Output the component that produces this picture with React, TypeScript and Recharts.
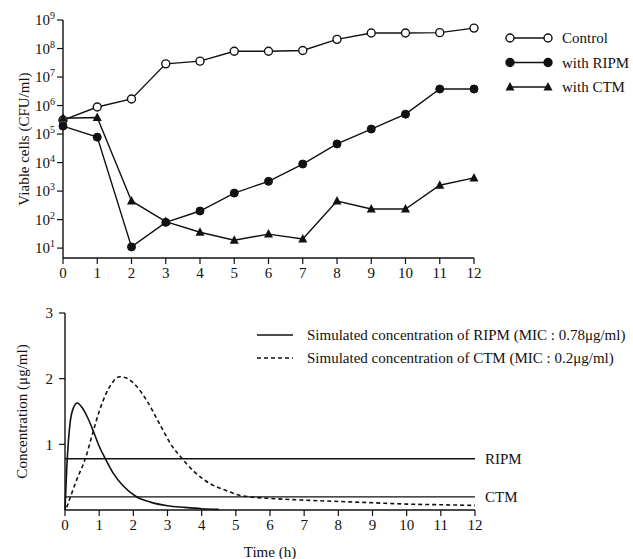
import React from "react";
import {
  LineChart,
  Line,
  XAxis,
  YAxis,
  Legend,
  ReferenceLine,
} from "recharts";

const FONT = '"Liberation Serif", "Times New Roman", serif';
const INK = "#111";

// viable cell counts (CFU/ml)
const hours = [0, 1, 2, 3, 4, 5, 6, 7, 8, 9, 10, 11, 12];
const control = [3.1e5, 8.9e5, 1.7e6, 2.9e7, 3.6e7, 8e7, 8e7, 8.5e7, 2.1e8, 3.5e8, 3.5e8, 3.6e8, 5.2e8];
const withRipm = [1.9e5, 7.8e4, 11, 80, 200, 850, 2200, 8900, 4.5e4, 1.5e5, 5e5, 3.8e6, 3.8e6];
const withCtm = [3.6e5, 3.8e5, 450, 85, 36, 19, 31, 21, 450, 235, 235, 1600, 2900];
const logTicks = [1e1, 1e2, 1e3, 1e4, 1e5, 1e6, 1e7, 1e8, 1e9];

// simulated concentrations (ug/ml), lower panel
const ripmTime = [0, 0.05, 0.1, 0.15, 0.25, 0.36, 0.5, 0.65, 0.83, 1.0, 1.17, 1.4, 1.7, 2.07, 2.5, 3.0, 3.5, 4.0, 4.5];
const ripmConc = [0, 0.62, 1.05, 1.33, 1.56, 1.63, 1.56, 1.42, 1.2, 0.97, 0.79, 0.57, 0.37, 0.21, 0.12, 0.065, 0.04, 0.02, 0.01];
const ctmTime = [0.05, 0.35, 0.6, 0.8, 1.0, 1.2, 1.4, 1.6, 1.8, 2.1, 2.4, 2.8, 3.1, 3.4, 3.75, 4.25, 4.75, 5.0, 5.4, 5.9, 7, 8, 9, 10, 11, 12];
const ctmConc = [0.04, 0.47, 0.79, 1.15, 1.5, 1.77, 1.95, 2.03, 2.01, 1.88, 1.66, 1.28, 1.0, 0.8, 0.6, 0.4, 0.29, 0.24, 0.2, 0.18, 0.15, 0.13, 0.11, 0.09, 0.08, 0.07];
const micLines = [
  { name: "RIPM", value: 0.78 },
  { name: "CTM", value: 0.2 },
];
const concTicks = [1, 2, 3];

const cellRows = hours.map((h, i) => ({
  hour: h,
  control: control[i],
  ripm: withRipm[i],
  ctm: withCtm[i],
}));
const ripmRows = ripmTime.map((t, i) => ({ t, c: ripmConc[i] }));
const ctmRows = ctmTime.map((t, i) => ({ t, c: ctmConc[i] }));

const PowerTick = ({ x, y, payload }: any) => {
  const exp = Math.round(Math.log10(payload.value));
  return (
    <text x={x} y={y} dy={5} textAnchor="end" fontSize={15} fontFamily={FONT} fill={INK}>
      10
      <tspan dy={-6} fontSize={10}>
        {exp}
      </tspan>
    </text>
  );
};

const Triangle = (props: any) => {
  const { cx, cy, index } = props;
  if (cx == null || cy == null) return null;
  return (
    <polygon
      key={`tri-${index}`}
      points={`${cx},${cy - 5} ${cx - 4.5},${cy + 3.5} ${cx + 4.5},${cy + 3.5}`}
      fill={INK}
    />
  );
};

const CellLegend = () => {
  const rows = [
    { label: "Control", mark: "open" },
    { label: "with RIPM", mark: "filled" },
    { label: "with CTM", mark: "tri" },
  ];
  const drawMark = (mark: string, x: number, y: number) => {
    if (mark === "tri")
      return <polygon points={`${x},${y - 5} ${x - 4.5},${y + 3.5} ${x + 4.5},${y + 3.5}`} fill={INK} />;
    return <circle cx={x} cy={y} r={4} fill={mark === "open" ? "#fff" : INK} stroke={INK} strokeWidth={1.4} />;
  };
  return (
    <svg width={130} height={80}>
      {rows.map((r, i) => {
        const y = 12 + i * 24.5;
        return (
          <g key={r.label}>
            <line x1={10} x2={48} y1={y} y2={y} stroke={INK} strokeWidth={1.4} />
            {drawMark(r.mark, 10, y)}
            {drawMark(r.mark, 48, y)}
            <text x={62} y={y + 5} fontSize={15} fontFamily={FONT} fill={INK}>
              {r.label}
            </text>
          </g>
        );
      })}
    </svg>
  );
};

const ConcLegend = () => (
  <svg width={380} height={40}>
    <line x1={2} x2={38} y1={8} y2={8} stroke={INK} strokeWidth={1.5} />
    <text x={52} y={13} fontSize={15} fontFamily={FONT} fill={INK}>
      Simulated concentration of RIPM (MIC : 0.78μg/ml)
    </text>
    <line x1={2} x2={38} y1={31} y2={31} stroke={INK} strokeWidth={1.5} strokeDasharray="4 3" />
    <text x={52} y={36} fontSize={15} fontFamily={FONT} fill={INK}>
      Simulated concentration of CTM (MIC : 0.2μg/ml)
    </text>
  </svg>
);

const tickStyle = { fontSize: 15, fill: INK, fontFamily: FONT };
const labelStyle = { fontSize: 15, fontFamily: FONT, fill: INK };

export default function App() {
  return (
    <div style={{ position: "absolute", left: 0, top: 0, width: 633, height: 559, background: "#fff" }}>
      <div style={{ position: "absolute", left: 0, top: 0 }}>
        <LineChart width={633} height={290} data={cellRows} margin={{ top: 20, right: 159, bottom: 0, left: 0 }}>
          <XAxis
            dataKey="hour"
            type="number"
            domain={[0, 12]}
            ticks={hours}
            interval={0}
            height={32}
            axisLine={{ stroke: INK, strokeWidth: 1.4 }}
            tickLine={{ stroke: INK, strokeWidth: 1.2 }}
            tick={tickStyle}
            tickMargin={3}
          />
          <YAxis
            type="number"
            scale="log"
            domain={[4.5, 1e9]}
            allowDataOverflow
            ticks={logTicks}
            interval={0}
            width={63}
            axisLine={{ stroke: INK, strokeWidth: 1.4 }}
            tickLine={{ stroke: INK, strokeWidth: 1.2 }}
            tick={<PowerTick />}
            label={{
              value: "Viable cells (CFU/ml)",
              angle: -90,
              position: "insideLeft",
              offset: 24,
              style: { ...labelStyle, textAnchor: "middle" },
            }}
          />
          <Legend
            layout="vertical"
            align="center"
            verticalAlign="middle"
            wrapperStyle={{ left: 500, top: 26, width: 130, height: 80 }}
            content={<CellLegend />}
          />
          <Line dataKey="control" type="linear" stroke={INK} strokeWidth={1.4} isAnimationActive={false}
            dot={{ r: 4, fill: "#fff", stroke: INK, strokeWidth: 1.4 }} />
          <Line dataKey="ripm" type="linear" stroke={INK} strokeWidth={1.4} isAnimationActive={false}
            dot={{ r: 4, fill: INK, stroke: INK, strokeWidth: 1 }} />
          <Line dataKey="ctm" type="linear" stroke={INK} strokeWidth={1.4} isAnimationActive={false}
            dot={<Triangle />} />
        </LineChart>
      </div>
      <div style={{ position: "absolute", left: 0, top: 290 }}>
        <LineChart width={633} height={269} margin={{ top: 23, right: 158, bottom: 0, left: 0 }}>
          <XAxis
            dataKey="t"
            type="number"
            domain={[0, 12]}
            ticks={hours}
            interval={0}
            height={49}
            axisLine={{ stroke: INK, strokeWidth: 1.4 }}
            tickLine={{ stroke: INK, strokeWidth: 1.2 }}
            tick={tickStyle}
            tickMargin={3}
            label={{ value: "Time (h)", position: "insideBottom", offset: 2, style: labelStyle }}
          />
          <YAxis
            type="number"
            domain={[0, 3]}
            ticks={concTicks}
            interval={0}
            width={65}
            axisLine={{ stroke: INK, strokeWidth: 1.4 }}
            tickLine={{ stroke: INK, strokeWidth: 1.2 }}
            tick={tickStyle}
            tickMargin={6}
            label={{
              value: "Concentration (μg/ml)",
              angle: -90,
              position: "insideLeft",
              offset: 22,
              style: { ...labelStyle, textAnchor: "middle" },
            }}
          />
          {micLines.map((m) => (
            <ReferenceLine
              key={m.name}
              y={m.value}
              stroke={INK}
              strokeWidth={1.4}
              label={{ value: m.name, position: "right", offset: 10, style: labelStyle }}
            />
          ))}
          <Legend
            layout="vertical"
            align="center"
            verticalAlign="middle"
            wrapperStyle={{ left: 255, top: 37, width: 380, height: 40 }}
            content={<ConcLegend />}
          />
          <Line data={ripmRows} dataKey="c" type="monotone" stroke={INK} strokeWidth={1.6} dot={false} isAnimationActive={false} />
          <Line data={ctmRows} dataKey="c" type="monotone" stroke={INK} strokeWidth={1.6} strokeDasharray="4 3" dot={false} isAnimationActive={false} />
        </LineChart>
      </div>
    </div>
  );
}
